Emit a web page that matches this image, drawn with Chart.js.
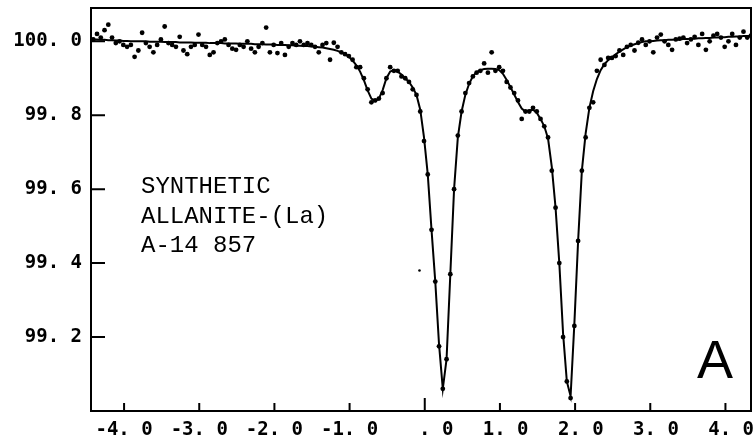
<!DOCTYPE html>
<html>
<head>
<meta charset="utf-8">
<script src="https://cdn.jsdelivr.net/npm/chart.js@4"></script>
<style>
  body { margin: 0; background: #fff; }
  #wrap { width: 755px; height: 446px; position: relative; }
</style>
</head>
<body>
<div id="wrap"><canvas id="spectrum"></canvas></div>
<script>
// velocity (mm/s) of each channel
const velocity = [
  -4.41,-4.36,-4.31,-4.26,-4.21,-4.16,-4.11,-4.06,-4.01,-3.96,
  -3.91,-3.86,-3.81,-3.76,-3.71,-3.66,-3.61,-3.56,-3.51,-3.46,
  -3.41,-3.36,-3.31,-3.26,-3.21,-3.16,-3.11,-3.06,-3.01,-2.96,
  -2.91,-2.86,-2.81,-2.76,-2.71,-2.66,-2.61,-2.56,-2.51,-2.46,
  -2.41,-2.36,-2.31,-2.26,-2.21,-2.16,-2.11,-2.06,-2.01,-1.96,
  -1.91,-1.86,-1.81,-1.76,-1.71,-1.66,-1.61,-1.56,-1.51,-1.46,
  -1.41,-1.36,-1.31,-1.26,-1.21,-1.16,-1.11,-1.06,-1.01,-0.96,
  -0.91,-0.86,-0.81,-0.76,-0.71,-0.66,-0.61,-0.56,-0.51,-0.46,
  -0.41,-0.36,-0.31,-0.26,-0.21,-0.16,-0.11,-0.06,-0.01,0.04,
  0.09,0.14,0.19,0.24,0.29,0.34,0.39,0.44,0.49,0.54,
  0.59,0.64,0.69,0.74,0.79,0.84,0.89,0.94,0.99,1.04,
  1.09,1.14,1.19,1.24,1.29,1.34,1.39,1.44,1.49,1.54,
  1.59,1.64,1.69,1.74,1.79,1.84,1.89,1.94,1.99,2.04,
  2.09,2.14,2.19,2.24,2.29,2.34,2.39,2.44,2.49,2.54,
  2.59,2.64,2.69,2.74,2.79,2.84,2.89,2.94,2.99,3.04,
  3.09,3.14,3.19,3.24,3.29,3.34,3.39,3.44,3.49,3.54,
  3.59,3.64,3.69,3.74,3.79,3.84,3.89,3.94,3.99,4.04,
  4.09,4.14,4.19,4.24,4.29,4.34
]

// measured transmission (%)
const transmission = [
  100.005,100.02,100.01,100.03,100.045,100.01,99.995,100.0,99.99,99.985,
  99.99,99.958,99.975,100.023,99.995,99.985,99.97,99.99,100.005,100.04,
  99.995,99.99,99.985,100.012,99.975,99.965,99.985,99.99,100.018,99.99,
  99.985,99.963,99.97,99.995,100.0,100.005,99.99,99.98,99.977,99.99,
  99.985,100.0,99.98,99.97,99.985,99.995,100.037,99.97,99.99,99.968,
  99.995,99.963,99.985,99.995,99.99,100.0,99.99,99.995,99.99,99.985,
  99.97,99.99,99.995,99.95,99.996,99.985,99.97,99.965,99.96,99.95,
  99.93,99.93,99.90,99.87,99.835,99.84,99.845,99.86,99.90,99.93,
  99.92,99.92,99.905,99.90,99.89,99.87,99.855,99.81,99.73,99.64,
  99.49,99.35,99.175,99.06,99.14,99.37,99.60,99.745,99.81,99.86,
  99.887,99.905,99.915,99.92,99.94,99.915,99.97,99.92,99.93,99.92,
  99.89,99.875,99.86,99.84,99.79,99.81,99.81,99.82,99.81,99.79,
  99.77,99.74,99.65,99.55,99.40,99.20,99.08,99.035,99.23,99.46,
  99.65,99.74,99.82,99.835,99.92,99.95,99.936,99.955,99.955,99.96,
  99.975,99.963,99.985,99.99,99.975,99.996,100.005,99.99,100.0,99.97,
  100.01,100.018,100.0,99.99,99.977,100.005,100.007,100.01,99.995,100.005,
  100.012,99.99,100.02,99.977,100.0,100.015,100.02,100.01,99.985,100.0,
  100.02,99.99,100.01,100.026,100.01,100.015
]

// fitted curve (%)
const fitCurve = [
  100.005,100.005,100.004,100.004,100.003,100.003,100.002,100.002,100.001,100.001,
  100.0,100.0,100.0,100.0,100.0,99.999,99.999,99.999,99.999,99.998,
  99.998,99.998,99.998,99.997,99.997,99.997,99.997,99.996,99.996,99.996,
  99.996,99.995,99.995,99.995,99.995,99.994,99.994,99.994,99.994,99.993,
  99.993,99.993,99.993,99.992,99.992,99.992,99.991,99.991,99.991,99.99,
  99.99,99.99,99.989,99.989,99.988,99.988,99.987,99.987,99.986,99.985,
  99.984,99.983,99.981,99.979,99.977,99.974,99.97,99.965,99.958,99.948,
  99.935,99.918,99.895,99.867,99.845,99.838,99.845,99.868,99.9,99.918,
  99.922,99.918,99.91,99.9,99.89,99.875,99.855,99.815,99.74,99.64,
  99.49,99.35,99.18,99.06,99.14,99.37,99.6,99.74,99.81,99.855,
  99.885,99.905,99.917,99.922,99.925,99.926,99.926,99.925,99.922,99.912,
  99.895,99.876,99.856,99.836,99.818,99.81,99.813,99.815,99.807,99.79,
  99.77,99.737,99.66,99.55,99.4,99.21,99.08,99.04,99.235,99.46,
  99.65,99.75,99.82,99.865,99.898,99.922,99.938,99.949,99.957,99.965,
  99.972,99.978,99.984,99.988,99.992,99.995,99.998,100.0,100.0,100.001,
  100.002,100.003,100.003,100.004,100.004,100.005,100.005,100.006,100.006,100.007,
  100.007,100.008,100.008,100.009,100.009,100.01,100.01,100.011,100.011,100.012,
  100.012,100.013,100.013,100.014,100.014,100.015
]

// lone speck under the left peak
const strayVelocity = [-0.07]
const strayValue = [99.38]

const xTickValues = [-4, -3, -2, -1, 0, 1, 2, 3, 4]
const xTickLabels = ['-4. 0', '-3. 0', '-2. 0', '-1. 0', '  . 0', ' 1. 0', ' 2. 0', ' 3. 0', ' 4. 0']
const yTickValues = [99.2, 99.4, 99.6, 99.8, 100.0]
const yTickLabels = ['99. 2', '99. 4', '99. 6', '99. 8', '100. 0']

const sampleLines = ['SYNTHETIC', 'ALLANITE-(La)', 'A-14 857']
const panelLetter = 'A'

const tickFont = { family: '"DejaVu Sans Mono"', size: 19, weight: 'bold' }

// box, inward ticks and the text inside the plot
const framePlugin = {
  id: 'frame',
  afterDraw(chart) {
    const { ctx, chartArea: a, scales: { x, y } } = chart
    ctx.save()
    ctx.strokeStyle = '#000'
    ctx.lineWidth = 2
    ctx.strokeRect(a.left, a.top, a.right - a.left, a.bottom - a.top)
    ctx.beginPath()
    yTickValues.forEach(v => {
      const py = y.getPixelForValue(v)
      ctx.moveTo(a.left, py)
      ctx.lineTo(a.left + 14, py)
    })
    xTickValues.forEach(v => {
      const px = x.getPixelForValue(v)
      ctx.moveTo(px, a.bottom)
      ctx.lineTo(px, a.bottom - (v === 0 ? 13 : 8))
    })
    ctx.stroke()

    ctx.fillStyle = '#000'
    ctx.textBaseline = 'alphabetic'
    ctx.textAlign = 'left'
    ctx.font = '24px "Liberation Mono"'
    sampleLines.forEach((t, i) => ctx.fillText(t, a.left + 50, 193 + i * 29.5))
    ctx.font = '54px "Liberation Sans"'
    ctx.fillText(panelLetter, a.right - 54, a.bottom - 33)
    ctx.restore()
  }
}

new Chart(document.getElementById('spectrum'), {
  type: 'line',
  data: {
    datasets: [{
      label: 'fit',
      data: velocity.map((v, i) => ({ x: v, y: fitCurve[i] })),
      borderColor: '#000',
      borderWidth: 2,
      pointRadius: 0,
      tension: 0,
      fill: false
    }, {
      label: 'data',
      data: velocity.map((v, i) => ({ x: v, y: transmission[i] })),
      showLine: false,
      pointRadius: 2.4,
      pointBorderWidth: 0,
      pointBackgroundColor: '#000'
    }, {
      label: 'stray',
      data: strayVelocity.map((v, i) => ({ x: v, y: strayValue[i] })),
      showLine: false,
      pointRadius: 1.3,
      pointBorderWidth: 0,
      pointBackgroundColor: '#000'
    }]
  },
  options: {
    responsive: true,
    maintainAspectRatio: false,
    animation: false,
    events: [],
    layout: { padding: { left: 0, right: 3, top: 8, bottom: 0 } },
    plugins: { legend: { display: false }, tooltip: { enabled: false } },
    scales: {
      x: {
        type: 'linear',
        min: -4.44,
        max: 4.34,
        afterBuildTicks: s => { s.ticks = xTickValues.map(v => ({ value: v })) },
        afterFit: s => { s.height = 35; s.paddingLeft = 0; s.paddingRight = 0 },
        grid: { display: false, drawTicks: false },
        border: { display: false },
        ticks: {
          color: '#000',
          font: tickFont,
          padding: 8,
          maxRotation: 0,
          autoSkip: false,
          callback: v => xTickLabels[xTickValues.indexOf(v)]
        }
      },
      y: {
        type: 'linear',
        min: 99.0,
        max: 100.09,
        afterBuildTicks: s => { s.ticks = yTickValues.map(v => ({ value: v })) },
        afterFit: s => { s.width = 91; s.paddingTop = 0; s.paddingBottom = 0 },
        grid: { display: false, drawTicks: false },
        border: { display: false },
        ticks: {
          color: '#000',
          font: tickFont,
          padding: 9,
          callback: v => yTickLabels[yTickValues.indexOf(v)]
        }
      }
    }
  },
  plugins: [framePlugin]
})
</script>
</body>
</html>
